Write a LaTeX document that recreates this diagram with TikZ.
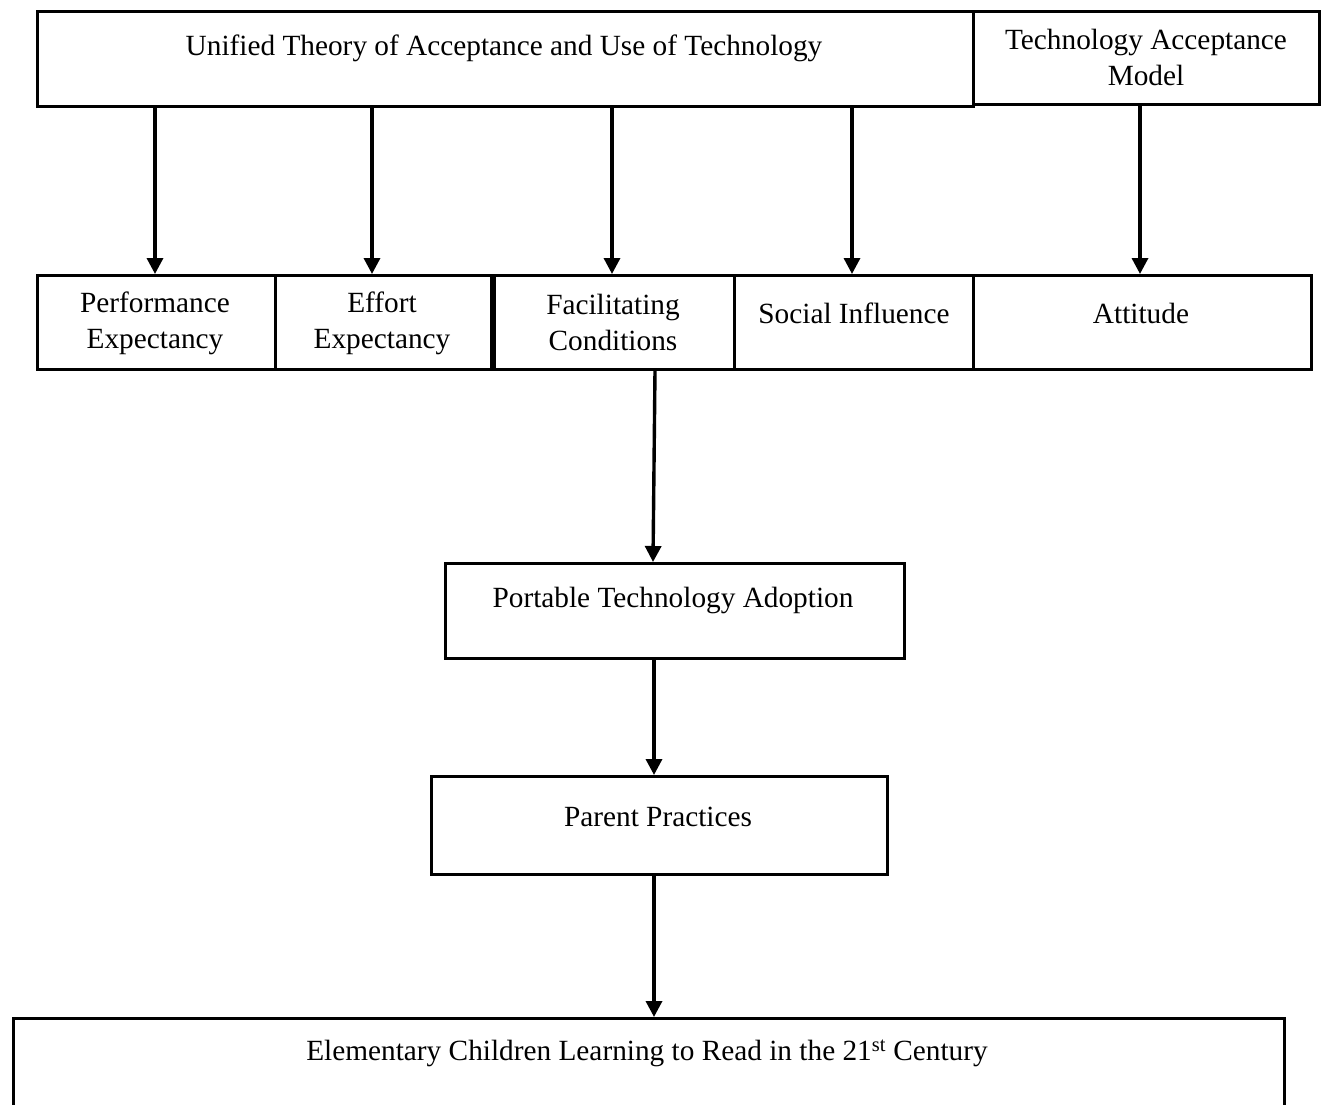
\documentclass[tikz,border=0pt]{standalone}
\usepackage{fontspec}
\setmainfont{Liberation Serif}
\usetikzlibrary{arrows.meta}
\begin{document}
\begin{tikzpicture}[x=1pt,y=-1pt,
  box/.style={draw=black, line width=2.6pt, inner sep=0pt, anchor=north west},
  txt/.style={inner sep=0pt, align=center, font=\fontsize{29.3}{36}\selectfont},
  arr/.style={line width=3.4pt, -{Triangle[length=16pt,width=16pt]}}]
\useasboundingbox (0,0) rectangle (1323,1105);
\clip (0,0) rectangle (1323,1105);
% top boxes
\node[box, minimum width=936, minimum height=95] (utaut) at (36,10) {};
\node[box, minimum width=346, minimum height=93] (tam) at (972,10) {};
\node[txt] (utauttxt) at (504,48) {Unified Theory of Acceptance and Use of Technology};
\node[txt] (tamtxt) at (1146,57) {Technology Acceptance\\Model};
% row boxes
\node[box, minimum width=238, minimum height=94] (pe) at (36,274) {};
\node[box, minimum width=216, minimum height=94] (ee) at (274,274) {};
\node[box, minimum width=240, minimum height=94] (fc) at (493,274) {};
\node[box, minimum width=239, minimum height=94] (si) at (733,274) {};
\node[box, minimum width=338, minimum height=94] (att) at (972,274) {};
\node[txt] (petxt) at (155,323) {Performance\\Expectancy};
\node[txt] (eetxt) at (382,323) {Effort\\Expectancy};
\node[txt] (fctxt) at (613,322) {Facilitating\\Conditions};
\node[txt] (sitxt) at (854,313) {Social Influence};
\node[txt] (atttxt) at (1141,313) {Attitude};
% lower boxes
\node[box, minimum width=459, minimum height=95] (pta) at (444,562) {};
\node[txt] (ptatxt) at (673,600) {Portable Technology Adoption};
\node[box, minimum width=456, minimum height=98] (pp) at (430,775) {};
\node[txt] (pptxt) at (658,817) {Parent Practices};
\node[box, minimum width=1271, minimum height=140] (ec) at (12,1017) {};
\node[txt] (ectxt) at (647,1053) {Elementary Children Learning to Read in the 21\textsuperscript{st} Century};
% arrows
\draw[arr] (155,0 |- utaut.south) -- (155,0 |- pe.north);
\draw[arr] (372,0 |- utaut.south) -- (372,0 |- ee.north);
\draw[arr] (612,0 |- utaut.south) -- (612,0 |- fc.north);
\draw[arr] (852,0 |- utaut.south) -- (852,0 |- si.north);
\draw[arr] (1140,0 |- tam.south) -- (1140,0 |- att.north);
\draw[arr] (655,0 |- fc.south) -- (653,0 |- pta.north);
\draw[arr] (654,0 |- pta.south) -- (654,0 |- pp.north);
\draw[arr] (654,0 |- pp.south) -- (654,0 |- ec.north);
\end{tikzpicture}
\end{document}
